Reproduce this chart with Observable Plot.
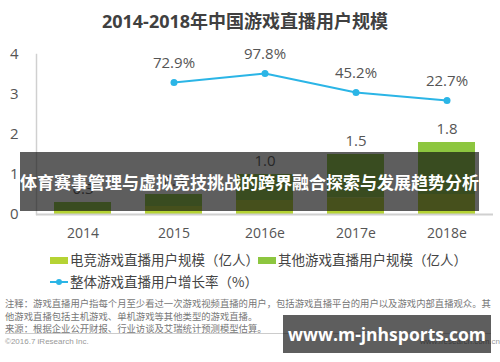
<!DOCTYPE html>
<html><head><meta charset="utf-8">
<script src="https://cdn.jsdelivr.net/npm/d3@7"></script>
<script src="https://cdn.jsdelivr.net/npm/@observablehq/plot@0.6"></script>
<style>
html,body{margin:0;padding:0;background:#fff;}
#wrap{position:relative;width:500px;height:362px;overflow:hidden;font-family:"Open Sans","Noto Sans CJK SC",sans-serif;color:#444;}
.abs{position:absolute;white-space:nowrap;}
#title{left:0;width:490px;top:7px;text-align:center;font-size:18px;font-weight:bold;color:#404040;font-family:"Open Sans","Noto Sans CJK SC",sans-serif;}
#chart{left:0;top:30px;}
.leg{font-size:13.5px;color:#444;line-height:18px;font-family:"Noto Sans CJK SC",sans-serif;}
.sw{display:inline-block;width:18px;height:7px;vertical-align:middle;margin-right:2px;position:relative;top:-1px;}
.note{left:5px;font-size:9.35px;color:#777;line-height:12.5px;font-family:"Noto Sans CJK SC",sans-serif;}
#banner{left:20px;top:152px;width:459px;height:59px;background:rgba(18,18,18,0.68);color:#fff;font-weight:bold;font-size:17px;line-height:59px;text-align:center;font-family:"Noto Sans CJK SC",sans-serif;}
#wm{left:283px;top:315px;width:208px;height:38px;background:rgba(18,18,18,0.68);color:#fff;font-weight:bold;font-size:17.5px;line-height:38px;text-align:center;font-family:"Open Sans",sans-serif;}
</style></head>
<body>
<div id="wrap">
  <div id="title" class="abs">2014-2018年中国游戏直播用户规模</div>
  <div id="chart" class="abs"></div>
  <div id="legend"></div>
  <div id="notes"></div>
  <div id="banner" class="abs"></div>
  <div id="wm" class="abs"></div>
</div>
<script>
const years = ["2014", "2015", "2016e", "2017e", "2018e"];
const esportsUsers = [0.1, 0.2, 0.35, 0.42, 0.5];
const otherUsers = [0.2, 0.3, 0.65, 1.08, 1.3];
const totalLabels = ["0.3", "0.5", "1.0", "1.5", "1.8"];
const growthYears = ["2015", "2016e", "2017e", "2018e"];
const growthRates = [72.9, 97.8, 45.2, 22.7];
const yTicks = [0, 1, 2, 3, 4];
const seriesNames = ["电竞游戏直播用户规模（亿人）", "其他游戏直播用户规模（亿人）", "整体游戏直播用户增长率（%）"];
const seriesColors = ["#b5d334", "#8dc63f", "#2bb5e6"];
const chartTitle = "2014-2018年中国游戏直播用户规模";
const noteLines = [
  "注释：游戏直播用户指每个月至少看过一次游戏视频直播的用户，包括游戏直播平台的用户以及游戏内部直播观众。其",
  "他游戏直播包括主机游戏、单机游戏等其他类型的游戏直播。",
  "来源：根据企业公开财报、行业访谈及艾瑞统计预测模型估算。"
];
const copyright = "©2016.7 iResearch Inc.";
const siteText = "www.iresearch.com.cn";
const bannerText = "体育赛事管理与虚拟竞技挑战的跨界融合探索与发展趋势分析";
const watermark = "www.m-jnhsports.com";

const stacked = [];
years.forEach((y, i) => stacked.push({year: y, series: seriesNames[0], value: esportsUsers[i]}));
years.forEach((y, i) => stacked.push({year: y, series: seriesNames[1], value: otherUsers[i]}));
const totals = years.map((y, i) => ({year: y, total: esportsUsers[i] + otherUsers[i], label: totalLabels[i]}));
// secondary (hidden) axis for growth rate mapped onto the primary scale
const rateToY = d3.scaleLinear().domain([0, 100]).range([2.644, 3.544]);
const growth = growthYears.map((y, i) => ({year: y, rate: growthRates[i], pos: rateToY(growthRates[i])}));

const font = '"Open Sans","Noto Sans CJK SC",sans-serif';
const plot = Plot.plot({
  width: 500,
  height: 214,
  marginLeft: 36,
  marginRight: 7,
  marginTop: 24,
  marginBottom: 30,
  style: {fontFamily: font, fontSize: "14px", color: "#555", background: "transparent"},
  x: {domain: years, paddingInner: 0.375, paddingOuter: 0.193, label: null},
  y: {domain: [0, 4], label: null},
  color: {domain: seriesNames.slice(0, 2), range: seriesColors.slice(0, 2)},
  marks: [
    Plot.barY(stacked, {x: "year", y: "value", fill: "series", order: null}),
    Plot.ruleY([0], {stroke: "#d0d0d0", strokeWidth: 2}),
    Plot.frame({anchor: "left", stroke: "#d0d0d0", strokeWidth: 1.5}),
    Plot.axisY({ticks: yTicks, tickSize: 0, tickPadding: 18, fontSize: 15, tickFormat: d3.format("d"), label: null}),
    Plot.axisX({tickSize: 0, tickPadding: 14, fontSize: 14, label: null}),
    Plot.text(totals, {x: "year", y: "total", text: "label", dy: -13, fontSize: 15, fill: "#555"}),
    Plot.line(growth, {x: "year", y: "pos", stroke: seriesColors[2], strokeWidth: 2}),
    Plot.dot(growth, {x: "year", y: "pos", fill: seriesColors[2], r: 3.5}),
    Plot.text(growth, {x: "year", y: "pos", text: d => d.rate.toFixed(1) + "%", dy: -19, fontSize: 15, fill: "#555"})
  ]
});
document.getElementById("chart").appendChild(plot);
document.getElementById("title").textContent = chartTitle;

const legend = document.getElementById("legend");
legend.innerHTML =
  `<div class="abs leg" style="left:50px;top:250px;"><span class="sw" style="background:${seriesColors[0]}"></span>${seriesNames[0]}</div>` +
  `<div class="abs leg" style="left:258px;top:250px;"><span class="sw" style="background:${seriesColors[1]}"></span>${seriesNames[1]}</div>` +
  `<div class="abs leg" style="left:50px;top:272px;"><svg width="18" height="8" style="vertical-align:middle;margin-right:2px;position:relative;top:-1px"><line x1="0" y1="4" x2="18" y2="4" stroke="${seriesColors[2]}" stroke-width="2"/><circle cx="9" cy="4" r="3" fill="${seriesColors[2]}"/></svg>${seriesNames[2]}</div>`;

const notes = document.getElementById("notes");
notes.innerHTML = noteLines.map((t, i) => `<div class="abs note" style="top:${297 + i * 12.5}px">${t}</div>`).join("") +
  `<div class="abs" style="left:5px;top:333px;width:486px;height:1px;background:#ccc"></div>` +
  `<div class="abs" style="left:5px;top:337px;font-size:8px;color:#999;font-family:'Liberation Sans',sans-serif">${copyright}</div>` +
  `<div class="abs" style="left:420px;top:337px;font-size:8px;color:#999;font-family:'Liberation Sans',sans-serif">${siteText}</div>`;

document.getElementById("banner").textContent = bannerText;
document.getElementById("wm").textContent = watermark;
</script>
</body></html>
